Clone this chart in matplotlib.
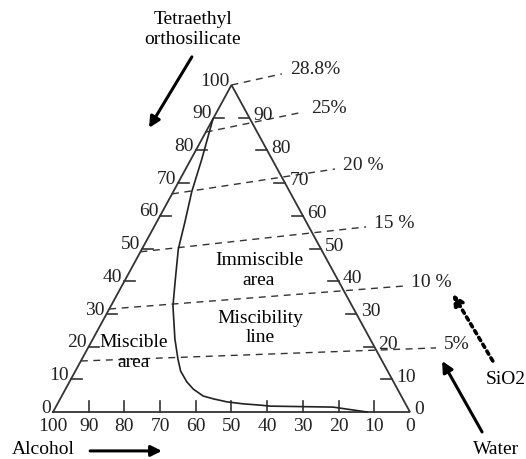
import numpy as np
import matplotlib.pyplot as plt

plt.rcParams['font.family'] = ['Liberation Serif', 'DejaVu Serif']
plt.rcParams['font.size'] = 14

# miscibility line: TEOS % and water % along the curve
teos_curve = [89.6, 77.4, 67.3, 58.1, 49.8, 39.8, 32.4, 22.3, 16.2, 12.5, 9.2, 7.0,
              4.9, 4.0, 3.1, 2.5, 2.1, 1.8, 1.5, 0.0]
water_curve = [0.0, 3.0, 5.2, 7.9, 10.2, 14.3, 17.4, 23.0, 26.9, 29.5, 32.9, 35.8,
               39.6, 43.0, 47.2, 52.0, 57.0, 59.9, 77.7, 88.0]

tick_vals = list(range(0, 110, 10))

# SiO2 content guide lines (start on the TEOS edge, end outside the triangle)
sio2_labels = ['28.8%', '25%', '20 %', '15 %', '10 %', '5%']
sio2_teos = [100, 85.6, 66.7, 49.0, 31.5, 15.6]
sio2_end_x = [64.1, 70.0, 79.0, 87.7, 98.0, 107.3]
sio2_end_y = [103.4, 91.7, 74.3, 56.6, 38.5, 19.6]


def to_xy(water, teos):
    water = np.asarray(water, dtype=float)
    teos = np.asarray(teos, dtype=float)
    return water + teos / 2, teos


fig = plt.figure(figsize=(5.26, 4.60), dpi=100)
ax = fig.add_axes([0, 0, 1, 1])
ax.set_xlim(-14.85, 132.5)
ax.set_ylim(-14.37, 126.3)
ax.axis('off')

edge = '#333333'
ax.plot([0, 100, 50, 0], [0, 0, 100, 0], color=edge, lw=1.3, solid_joinstyle='miter')

# tick marks
for v in tick_vals[1:-1]:
    ax.plot([v / 2, v / 2 + 3], [v, v], color=edge, lw=1.2)
    ax.plot([100 - v / 2 - 3, 100 - v / 2], [v, v], color=edge, lw=1.2)
    ax.plot([v, v], [0, 3.4], color=edge, lw=1.2)

# tick labels
for v in tick_vals:
    ax.text(100 - v, -4.0, str(v), ha='center', va='center', color='#222')
    ax.text(v / 2 - 0.5, v + 1.5, str(v), ha='right', va='center', color='#222')
for v in tick_vals[:-1]:
    ax.text(100 - v / 2 + 1.2, v + 1.0, str(v), ha='left', va='center', color='#222')

# SiO2 dashed lines
for lab, t, ex, ey in zip(sio2_labels, sio2_teos, sio2_end_x, sio2_end_y):
    sx, sy = to_xy(0, t)
    ax.plot([sx, ex], [sy, ey], color='#333', lw=1.0, dashes=(5, 4))
    ax.text(ex + 2.2, ey + 1.5, lab, ha='left', va='center', color='#222')

# miscibility curve
cx, cy = to_xy(water_curve, teos_curve)
ax.plot(cx, cy, color='#222', lw=1.2, solid_joinstyle='round')

# region labels
ax.text(57.7, 43.6, 'Immiscible\narea', ha='center', va='center', linespacing=1.25)
ax.text(58.0, 25.9, 'Miscibility\nline', ha='center', va='center', linespacing=1.15)
ax.text(22.7, 18.5, 'Miscible\narea', ha='center', va='center', linespacing=1.25)

# component labels and arrows
ax.text(39.2, 117.3, 'Tetraethyl\northosilicate', ha='center', va='center', linespacing=1.2)
ax.text(-2.8, -11.3, 'Alcohol', ha='center', va='center')
ax.text(124.1, -11.3, 'Water', ha='center', va='center')
ax.text(126.9, 10.1, 'SiO2', ha='center', va='center')

arrow = dict(arrowstyle='-|>', color='black', lw=2.2, mutation_scale=16, shrinkA=0, shrinkB=0)
ax.annotate('', xy=(26.9, 86.9), xytext=(38.9, 108.6), arrowprops=arrow)
ax.annotate('', xy=(30.5, -11.9), xytext=(10.4, -11.9), arrowprops=arrow)
ax.annotate('', xy=(109.0, 15.6), xytext=(120.2, -6.1), arrowprops=arrow)
ax.annotate('', xy=(112.0, 36.1), xytext=(123.2, 15.6),
            arrowprops=dict(arrow, linestyle=(0, (1, 1.2)), lw=2.6))

fig.savefig('out.png', dpi=100)
